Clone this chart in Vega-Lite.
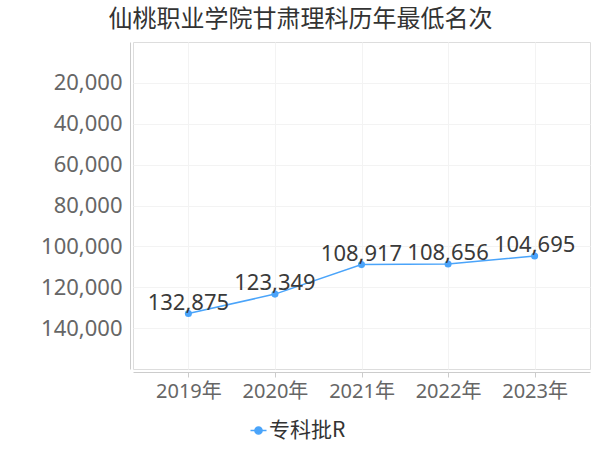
{
  "$schema": "https://vega.github.io/schema/vega-lite/v6.json",
  "autosize": {"type": "none"},
  "width": 457,
  "height": 327,
  "padding": {"left": 133, "top": 42, "right": 10, "bottom": 81},
  "background": "#ffffff",
  "title": {
    "text": "仙桃职业学院甘肃理科历年最低名次",
    "font": "Noto Sans CJK SC",
    "fontSize": 24,
    "fontWeight": "normal",
    "color": "#333333",
    "anchor": "middle",
    "frame": "group",
    "dx": -61,
    "offset": 10
  },
  "data": {
    "values": [
      {"year": "2019年", "rank": 132875, "series": "专科批R"},
      {"year": "2020年", "rank": 123349, "series": "专科批R"},
      {"year": "2021年", "rank": 108917, "series": "专科批R"},
      {"year": "2022年", "rank": 108656, "series": "专科批R"},
      {"year": "2023年", "rank": 104695, "series": "专科批R"}
    ]
  },
  "encoding": {
    "x": {
      "field": "year", "type": "ordinal", "sort": null,
      "scale": {"type": "point", "padding": 0.64},
      "axis": {
        "title": null, "labelAngle": 0, "labelFont": "Noto Sans, Noto Sans CJK SC",
        "labelFontSize": 20, "labelColor": "#666666", "labelPadding": 4,
        "domainColor": "#cccccc", "tickColor": "#cccccc", "tickSize": 5,
        "offset": 3, "grid": true, "gridColor": "#f3f3f3"
      }
    },
    "y": {
      "field": "rank", "type": "quantitative",
      "scale": {"domain": [0, 160000], "reverse": true, "nice": false, "zero": false},
      "axis": {
        "title": null, "values": [20000, 40000, 60000, 80000, 100000, 120000, 140000],
        "format": ",d", "labelFont": "Noto Sans", "labelFontSize": 22, "labelColor": "#666666",
        "labelPadding": 8, "ticks": false, "domainColor": "#cccccc", "offset": 3,
        "grid": true, "gridColor": "#f3f3f3"
      }
    },
    "color": {
      "field": "series", "type": "nominal",
      "scale": {"range": ["#4aa4fa"]},
      "legend": {
        "title": null, "orient": "none", "legendX": 115, "legendY": 378,
        "labelFont": "Noto Sans CJK SC", "labelFontSize": 21, "labelColor": "#333333",
        "symbolType": "M-1,0L1,0M-0.45,0a0.45,0.45 0 1,0 0.9,0a0.45,0.45 0 1,0 -0.9,0",
        "symbolSize": 256, "symbolStrokeWidth": 1.5, "symbolFillColor": "#4aa4fa", "symbolStrokeColor": "#4aa4fa",
        "labelOffset": 0
      }
    }
  },
  "layer": [
    {"mark": {"type": "line", "strokeWidth": 1.5}},
    {"mark": {"type": "point", "filled": true, "size": 50, "opacity": 1}},
    {
      "mark": {"type": "text", "font": "Noto Sans", "fontSize": 22, "baseline": "alphabetic", "dy": -4},
      "encoding": {"text": {"field": "rank", "type": "quantitative", "format": ",d"}, "color": {"value": "#3a3a3a"}}
    }
  ]
}
